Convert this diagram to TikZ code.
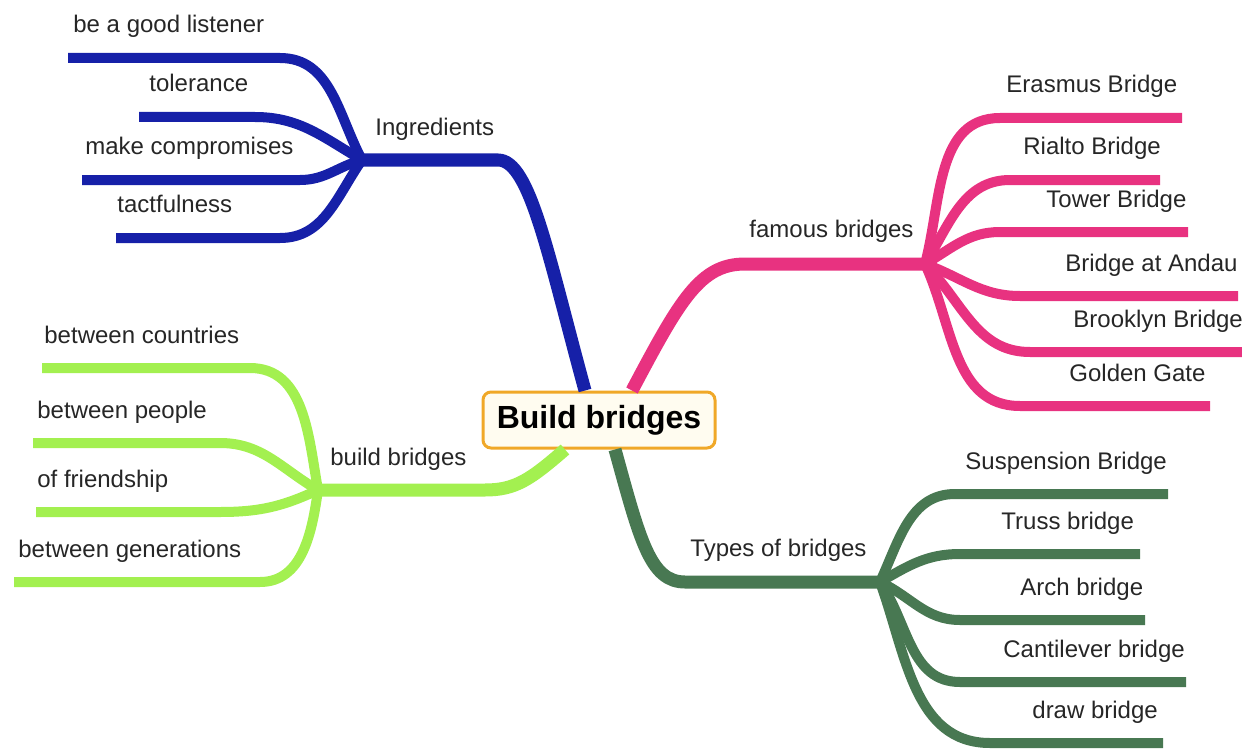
\documentclass[tikz,border=0pt]{standalone}
\usepackage{fontspec}
\setmainfont{Liberation Sans}

\definecolor{ingrblue}{RGB}{22,32,168}
\definecolor{famepink}{RGB}{232,50,128}
\definecolor{buildgreen}{RGB}{163,240,80}
\definecolor{typegreen}{RGB}{72,120,82}
\definecolor{rootorange}{RGB}{240,168,40}
\definecolor{rootfill}{RGB}{255,252,240}

\begin{document}
\begin{tikzpicture}[x=0.5pt, y=-0.5pt,
    trunk/.style={line width=6.5pt},
    twig/.style={line width=5pt},
    lbl/.style={anchor=base west, inner sep=0pt, text=black!85,
                font=\fontsize{12}{14}\selectfont}]

        \useasboundingbox (0, 0) rectangle (1242, 749);

        \node[draw=rootorange, line width=1.5pt, fill=rootfill, rounded corners=4pt,
              minimum width=116pt, minimum height=28pt, inner sep=0pt,
              font=\fontsize{16}{18}\selectfont\bfseries] (root) at (599, 420) {Build bridges};

        % hubs
        \coordinate (ingrHub) at (362, 160);
        \coordinate (buildHub) at (318, 490);
        \coordinate (fameHub) at (925, 264);
        \coordinate (typeHub) at (880, 582);

        % main branches
        \draw[trunk, ingrblue] ([xshift=-7pt]root.north) .. controls (548, 255) and (530, 160) .. (498, 160) -- (ingrHub);
        \draw[trunk, famepink] ([xshift=16.5pt]root.north) .. controls (680, 300) and (700, 264) .. (745, 264) -- (fameHub);
        \draw[trunk, buildgreen] ([xshift=-17pt]root.south) .. controls (530, 480) and (515, 490) .. (485, 490) -- (buildHub);
        \draw[trunk, typegreen] ([xshift=8pt]root.south) .. controls (640, 540) and (650, 582) .. (685, 582) -- (typeHub);

        \node[lbl] (ingr) at (375, 135) {Ingredients};
        \node[lbl] (build) at (330, 465) {build bridges};
        \node[lbl] (fame) at (749, 237) {famous bridges};
        \node[lbl] (types) at (690, 556) {Types of bridges};

        % Ingredients
        \draw[twig, ingrblue] (ingrHub) to[out=118, in=0] (280, 58) -- (68, 58);
        \draw[twig, ingrblue] (ingrHub) to[out=150, in=0] (255, 117) -- (139, 117);
        \draw[twig, ingrblue] (ingrHub) to[out=195, in=0] (300, 180) -- (82, 180);
        \draw[twig, ingrblue] (ingrHub) to[out=235, in=0] (280, 238) -- (116, 238);

        \node[lbl] (listen) at (73, 33) {be a good listener};
        \node[lbl] (toler) at (149, 92) {tolerance};
        \node[lbl] (compro) at (85, 155) {make compromises};
        \node[lbl] (tact) at (117, 213) {tactfulness};

        % build bridges
        \draw[twig, buildgreen] (buildHub) to[out=100, in=0] (250, 368) -- (42, 368);
        \draw[twig, buildgreen] (buildHub) to[out=150, in=0] (220, 443) -- (33, 443);
        \draw[twig, buildgreen] (buildHub) to[out=205, in=0] (220, 512) -- (36, 512);
        \draw[twig, buildgreen] (buildHub) to[out=262, in=0] (260, 582) -- (14, 582);

        \node[lbl] (countries) at (44, 343) {between countries};
        \node[lbl] (people) at (37, 418) {between people};
        \node[lbl] (friend) at (37, 487) {of friendship};
        \node[lbl] (gener) at (18, 557) {between generations};

        % famous bridges
        \draw[twig, famepink] (fameHub) to[out=75, in=180] (1000, 118) -- (1182, 118);
        \draw[twig, famepink] (fameHub) to[out=58, in=180] (1010, 180) -- (1160, 180);
        \draw[twig, famepink] (fameHub) to[out=30, in=180] (1000, 232) -- (1188, 232);
        \draw[twig, famepink] (fameHub) to[out=-20, in=180] (1020, 296) -- (1238, 296);
        \draw[twig, famepink] (fameHub) to[out=-45, in=180] (1030, 352) -- (1242, 352);
        \draw[twig, famepink] (fameHub) to[out=-65, in=180] (1020, 406) -- (1210, 406);

        \node[lbl] (erasmus) at (1006, 93) {Erasmus Bridge};
        \node[lbl] (rialto) at (1023, 155) {Rialto Bridge};
        \node[lbl] (tower) at (1046, 207) {Tower Bridge};
        \node[lbl] (andau) at (1065, 271) {Bridge at Andau};
        \node[lbl] (brooklyn) at (1073, 327) {Brooklyn Bridge};
        \node[lbl] (golden) at (1069, 381) {Golden Gate};

        % Types of bridges
        \draw[twig, typegreen] (typeHub) to[out=65, in=180] (955, 494) -- (1168, 494);
        \draw[twig, typegreen] (typeHub) to[out=30, in=180] (960, 554) -- (1140, 554);
        \draw[twig, typegreen] (typeHub) to[out=-25, in=180] (960, 620) -- (1145, 620);
        \draw[twig, typegreen] (typeHub) to[out=-55, in=180] (960, 682) -- (1186, 682);
        \draw[twig, typegreen] (typeHub) to[out=-70, in=180] (990, 743) -- (1163, 743);

        \node[lbl] (suspen) at (965, 469) {Suspension Bridge};
        \node[lbl] (truss) at (1001, 529) {Truss bridge};
        \node[lbl] (arch) at (1020, 595) {Arch bridge};
        \node[lbl] (canti) at (1003, 657) {Cantilever bridge};
        \node[lbl] (drawbr) at (1032, 718) {draw bridge};

\end{tikzpicture}
\end{document}
